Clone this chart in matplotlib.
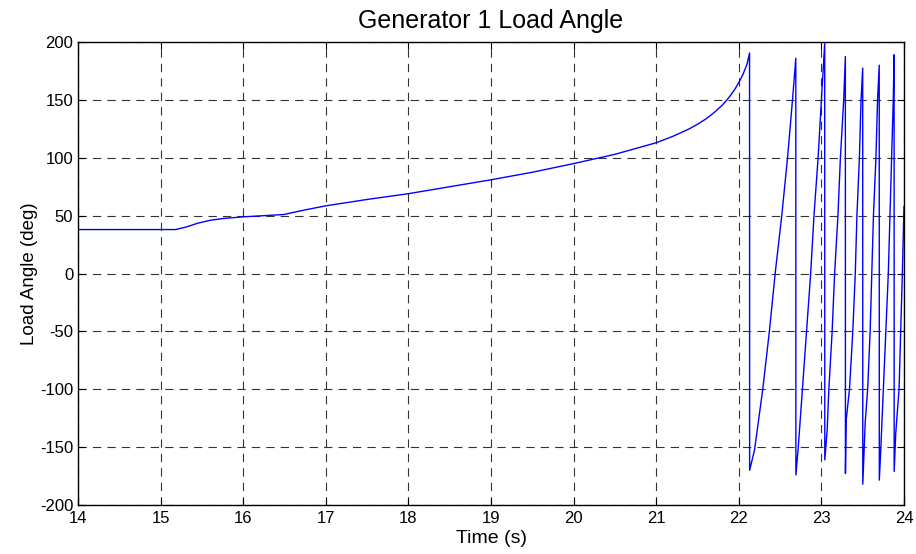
import matplotlib
matplotlib.use('Agg')
import matplotlib.pyplot as plt

plt.rcParams['font.family'] = ['Liberation Sans', 'DejaVu Sans']
plt.rcParams['axes.unicode_minus'] = False

# 发电机1功角随时间变化 (s, deg)
t_stable = [14.0, 15.18, 15.3, 15.45, 15.6, 15.75, 16.0, 16.25, 16.49, 16.75,
            17.0, 17.5, 18.0, 18.5, 19.0, 19.5, 20.0, 20.5, 21.0, 21.2,
            21.4, 21.5, 21.6, 21.7, 21.8, 21.85, 21.9, 21.95, 22.0, 22.05,
            22.1, 22.13]
angle_stable = [38, 38, 40, 43.5, 46, 47.5, 49, 50, 51, 55,
                58.5, 64, 69, 75, 81, 87.5, 95, 103, 113, 118.5,
                125, 129, 133.5, 139, 145.5, 149.5, 154, 159, 165, 172,
                181, 190.5]

# 失步后的滑极段，每一段从跳变后的最低点开始
t_slip = [
    [22.131, 22.19, 22.29, 22.37, 22.44, 22.52, 22.59, 22.65, 22.69],
    [22.691, 22.72, 22.77, 22.82, 22.87, 22.91, 22.96, 23.0, 23.04],
    [23.041, 23.07, 23.09, 23.13, 23.16, 23.20, 23.23, 23.27, 23.29],
    [23.291, 23.30, 23.34, 23.38, 23.41, 23.43, 23.46, 23.48, 23.50],
    [23.501, 23.53, 23.56, 23.59, 23.61, 23.63, 23.66, 23.68, 23.70],
    [23.701, 23.72, 23.75, 23.78, 23.81, 23.83, 23.85, 23.87, 23.88],
    [23.881, 23.90, 23.94, 23.96, 23.98, 24.0],
]
angle_slip = [
    [-170, -152.5, -100, -50, 0, 50, 100, 150, 186],
    [-174, -150, -100, -50, 0, 50, 100, 150, 199],
    [-161, -135, -100, -50, 0, 50, 100, 150, 187.5],
    [-172.7, -126.5, -100, -50, 0, 50, 100, 150, 177.5],
    [-182, -129, -100, -50, 0, 50, 100, 150, 180],
    [-178.5, -150, -100, -50, 0, 50, 100, 150, 189],
    [-171, -138, -100, -50, 0, 58],
]

t = list(t_stable)
angle = list(angle_stable)
for ts, a in zip(t_slip, angle_slip):
    t += ts
    angle += a

fig = plt.figure(figsize=(9.16, 5.54), dpi=100)
ax = fig.add_axes([0.0852, 0.0884, 0.9017, 0.8357])

ax.plot(t, angle, color=(0, 0, 1), lw=1.0)

ax.set_xlim(14, 24)
ax.set_ylim(-200, 200)
ax.set_xticks(range(14, 25))
ax.set_yticks(range(-200, 201, 50))

ax.grid(True, color='0.2', lw=0.8, linestyle=(0, (7.5, 5.5)))
ax.tick_params(direction='in', length=5, width=0.8, top=True, right=True,
               labelsize=12, colors='black')
ax.tick_params(axis='x', pad=4)
ax.tick_params(axis='y', pad=3.5)
for s in ax.spines.values():
    s.set_linewidth(1.0)

ax.set_title('Generator 1 Load Angle', fontsize=18, pad=10)
ax.set_xlabel('Time (s)', fontsize=14, labelpad=3)
ax.set_ylabel('Load Angle (deg)', fontsize=13.5, labelpad=1)

fig.savefig('out.png', dpi=100)
